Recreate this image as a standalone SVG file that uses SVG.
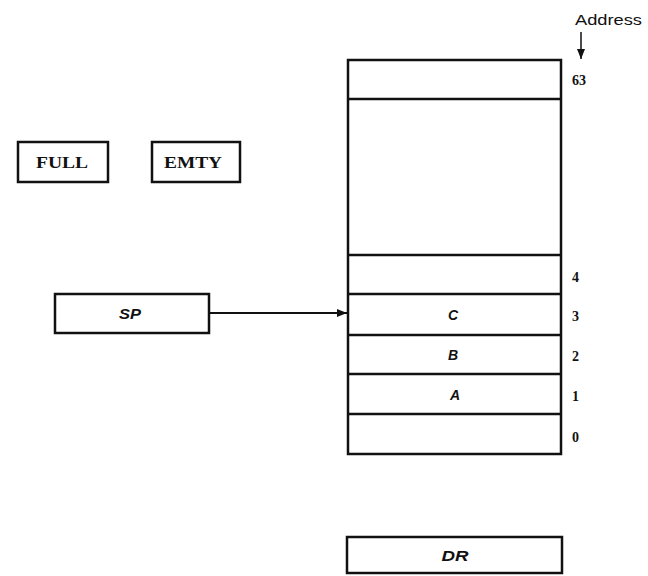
<svg xmlns="http://www.w3.org/2000/svg" width="648" height="576" viewBox="0 0 648 576">
<defs>
<style>
.box{fill:#fff;stroke:#111;stroke-width:2.5}
.ln{stroke:#111;stroke-width:2.5;fill:none}
.t{font-family:"Liberation Serif",serif;font-size:16px;font-weight:bold;fill:#111;text-anchor:middle}
.ti{font-family:"Liberation Sans",sans-serif;font-size:14px;font-style:italic;font-weight:bold;fill:#111;text-anchor:middle}
.n{font-family:"Liberation Serif",serif;font-size:14px;font-weight:bold;fill:#111}
.a{font-family:"Liberation Sans",sans-serif;font-size:14px;fill:#111}
</style>
<marker id="ah" markerWidth="10" markerHeight="8" refX="10" refY="4" orient="auto" markerUnits="userSpaceOnUse">
<path d="M0,0 L10,4 L0,8 z" fill="#111"/>
</marker>
</defs>
<rect width="648" height="576" fill="#fff"/>
<g id="full"><rect class="box" x="18" y="142" width="90" height="40"/><text class="t" x="62" y="168" textLength="52" lengthAdjust="spacingAndGlyphs">FULL</text></g>
<g id="emty"><rect class="box" x="152" y="142" width="88" height="40"/><text class="t" x="193" y="168" textLength="58" lengthAdjust="spacingAndGlyphs">EMTY</text></g>
<g id="sp"><rect class="box" x="55" y="294" width="154" height="39"/><text class="ti" x="130" y="319" textLength="22" lengthAdjust="spacingAndGlyphs">SP</text></g>
<g id="memory">
<rect class="box" x="348" y="60" width="213" height="394"/>
<line class="ln" x1="348" y1="99" x2="561" y2="99"/>
<line class="ln" x1="348" y1="255" x2="561" y2="255"/>
<line class="ln" x1="348" y1="294" x2="561" y2="294"/>
<line class="ln" x1="348" y1="335" x2="561" y2="335"/>
<line class="ln" x1="348" y1="374" x2="561" y2="374"/>
<line class="ln" x1="348" y1="414" x2="561" y2="414"/>
<text class="ti" x="453" y="320">C</text>
<text class="ti" x="453" y="360">B</text>
<text class="ti" x="455" y="400">A</text>
<text class="n" x="572" y="85">63</text>
<text class="n" x="572" y="282">4</text>
<text class="n" x="572" y="321">3</text>
<text class="n" x="572" y="361">2</text>
<text class="n" x="572" y="401">1</text>
<text class="n" x="572" y="442">0</text>
<text class="a" x="575" y="25" textLength="67" lengthAdjust="spacingAndGlyphs">Address</text>
</g>
<g id="dr"><rect class="box" x="347" y="537" width="215" height="36"/><text class="ti" x="455" y="561" textLength="27" lengthAdjust="spacingAndGlyphs">DR</text></g>
<g id="connectors">
<line x1="209" y1="313" x2="347" y2="313" stroke="#111" stroke-width="2" marker-end="url(#ah)"/>
<line x1="581" y1="32" x2="581" y2="59" stroke="#111" stroke-width="1.5" marker-end="url(#ah)"/>
</g>
</svg>
